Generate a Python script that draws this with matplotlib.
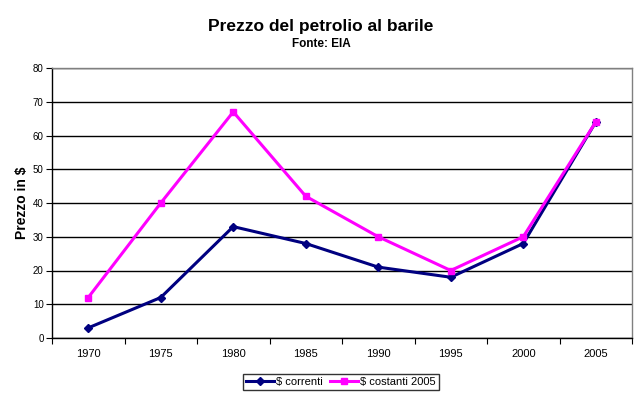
import matplotlib
matplotlib.use("Agg")
import matplotlib.pyplot as plt
import numpy as np

years = ["1970", "1975", "1980", "1985", "1990", "1995", "2000", "2005"]
correnti = [3, 12, 33, 28, 21, 18, 28, 64]
costanti = [12, 40, 67, 42, 30, 20, 30, 64]
yticks = [0, 10, 20, 30, 40, 50, 60, 70, 80]

plt.rcParams['font.family'] = ['Liberation Sans', 'DejaVu Sans']

fig = plt.figure(figsize=(6.42, 3.99), dpi=100)
ax = fig.add_axes([52/642, 1-338/399, (632-52)/642, (338-68)/399])

x = np.arange(len(years)) + 0.5
ax.plot(x, correnti, color='#000080', lw=2.2, marker='D', ms=4, label='$ correnti', zorder=3)
ax.plot(x, costanti, color='#FF00FF', lw=2.2, marker='s', ms=5, label='$ costanti 2005', zorder=4)

ax.set_xlim(0, len(years))
ax.set_ylim(0, 80)
ax.set_yticks(yticks)
ax.set_yticklabels([str(v) for v in yticks], fontsize=7)
ax.set_xticks(np.arange(len(years) + 1))
ax.set_xticklabels([])
ax.set_xticks(x, minor=True)
ax.set_xticklabels(years, minor=True, fontsize=8)
ax.tick_params(axis='x', which='minor', length=0, pad=8)
ax.tick_params(axis='x', which='major', length=4, direction='out', color='black')
ax.tick_params(axis='y', length=4, direction='out', pad=2)
ax.grid(axis='y', color='black', lw=1)
ax.set_axisbelow(True)
for s in ['top', 'right']:
    ax.spines[s].set_color('#808080')
    ax.spines[s].set_linewidth(1)
for s in ['left', 'bottom']:
    ax.spines[s].set_color('black')
    ax.spines[s].set_linewidth(1)

ax.set_ylabel('Prezzo in $', fontsize=10, fontweight='bold', labelpad=3)

fig.text(0.5, 1-27/399, 'Prezzo del petrolio al barile', ha='center', va='center',
         fontsize=12.5, fontweight='bold')
fig.text(0.5, 1-44/399, 'Fonte: EIA', ha='center', va='center', fontsize=8.5, fontweight='bold')

leg = fig.legend(loc='center', bbox_to_anchor=(341/642, 1-382/399), ncol=2, fontsize=8,
                 frameon=True, fancybox=False, edgecolor='black', handlelength=2.5,
                 handletextpad=0.2, columnspacing=0.6, borderpad=0.3, borderaxespad=0)
leg.get_frame().set_linewidth(1)

fig.savefig('out.png', dpi=100)
